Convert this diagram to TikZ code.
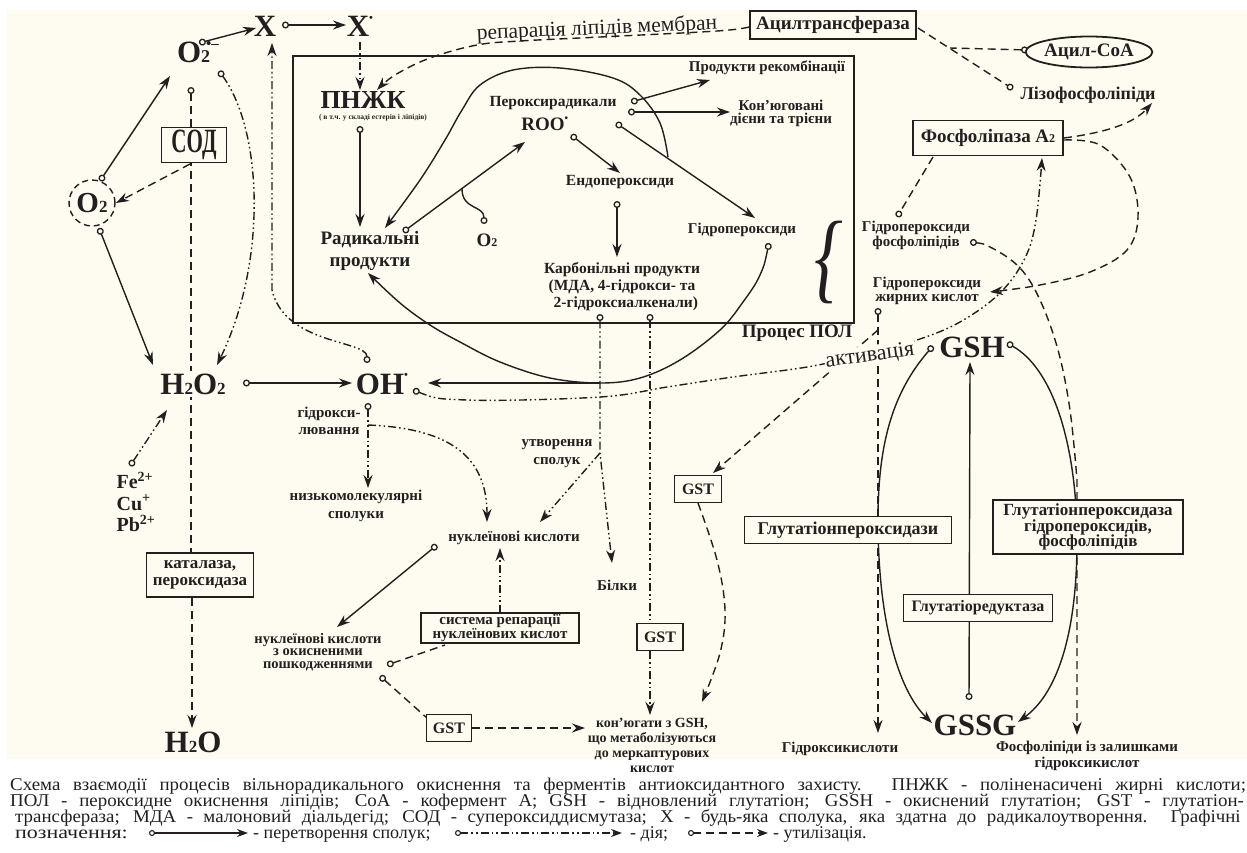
\documentclass[tikz,border=0pt]{standalone}
\usepackage{fontspec}
\usepackage{graphicx}
\setmainfont{Liberation Serif}
\usetikzlibrary{arrows.meta,shapes.geometric,backgrounds,calc}
\newcommand\myfs[1]{\fontsize{#1}{#1}\selectfont}
\newcommand\myfsl[2]{\fontsize{#1}{#2}\selectfont}
\definecolor{cream}{RGB}{254,252,241}
\definecolor{ink}{RGB}{35,31,32}
\tikzset{
  conv/.style={draw=ink,line width=1.4pt},
  act/.style={draw=ink,line width=1.4pt,dash pattern=on 8pt off 3pt on 1.6pt off 3pt on 1.6pt off 3pt},
  util/.style={draw=ink,line width=1.4pt,dash pattern=on 8pt off 5pt},
  oarr/.style={{Circle[open,length=7pt,width=7pt,line width=1.3pt]}-{Stealth[length=13pt,width=9pt]}},
  arr/.style={-{Stealth[length=13pt,width=9pt]}},
  ostart/.style={{Circle[open,length=7pt,width=7pt,line width=1.3pt]}-},
  oend/.style={-{Circle[open,length=7pt,width=7pt,line width=1.3pt]}},
  sarr/.style={{Circle[open,length=6pt,width=6pt,line width=1.1pt]}-{Stealth[length=11pt,width=8pt]}},
  lbl/.style={text=ink,inner sep=1pt,align=center},
  bx/.style={draw=ink,line width=1.8pt,fill=cream,align=center,inner sep=1pt,text=ink},
  captxt/.style={text=ink,inner sep=0pt,anchor=base west,font=\myfs{18}},
}
\begin{document}
\begin{tikzpicture}[x=1pt,y=-1pt]
\begin{pgfonlayer}{background}
\fill[white] (0,0) rectangle (1247,852);
\fill[cream] (7,10) rectangle (1247,759);
\end{pgfonlayer}
\useasboundingbox (0,0) rectangle (1247,852);

% ---------- process box ----------
\node[draw=ink,line width=2pt,minimum width=561pt,minimum height=267pt,inner sep=0pt] (polbox) at (573.5,189.5) {};
\node[lbl,font=\bfseries\myfs{19}] (pol) at (797,333) {Процес ПОЛ};

% ---------- left column ----------
\node[lbl,font=\bfseries\myfs{31}] (X) at (265,26) {X};
\node[lbl,font=\bfseries\myfs{31}] (Xr) at (358,26) {X\rlap{\raisebox{15pt}{\myfs{11}•}}};
\node[lbl,font=\bfseries\myfs{31}] (O2m) at (198,52) {O{\myfs{18}2}\hspace{-4pt}\raisebox{14pt}{\myfs{15}•–}};
\node[bx,minimum width=65pt,minimum height=35pt] (SOD) at (194,145) {\scalebox{0.62}[1]{\bfseries\myfs{34}СОД}};
\node[circle,draw=ink,line width=1.4pt,dash pattern=on 6pt off 4pt,minimum size=46pt,inner sep=0pt,font=\bfseries\myfs{29},text=ink] (O2) at (92,203) {O{\myfs{17}2}};
\node[lbl,fill=cream,font=\bfseries\myfs{31},inner sep=3pt] (H2O2) at (193,384) {H{\myfs{17}2}O{\myfs{17}2}};
\node[lbl,font=\bfseries\myfs{31}] (OH) at (380,384) {OH\rlap{\raisebox{16pt}{\myfs{11}•}}};
\node[lbl,font=\bfseries\myfs{31}] (H2O) at (193,742) {H{\myfs{17}2}O};
\node[lbl,align=left,font=\bfseries\myfsl{20}{21.5}] (Fe) at (136,502) {Fe\textsuperscript{2+}\\Cu\textsuperscript{+}\\Pb\textsuperscript{2+}};
\node[bx,minimum width=107pt,minimum height=44pt,font=\bfseries\myfsl{17}{17}] (kat) at (200,575) {каталаза,\\пероксидаза};
\node[lbl,font=\bfseries\myfsl{15}{17}] (hydrox) at (329,421) {гідрокси-\\лювання};
\node[lbl,font=\bfseries\myfsl{15}{18}] (lowmol) at (356,506) {низькомолекулярні\\сполуки};

% ---------- inside process box ----------
\node[lbl,font=\bfseries\myfs{26}] (PUFA) at (363,100) {ПНЖК};
\node[lbl,font=\bfseries\myfs{7.5},inner sep=0pt] (PUFAs) at (373,118) {( в т.ч. у складі естерів і ліпідів)};
\node[lbl,font=\bfseries\myfsl{19}{22}] (rad) at (370,251) {Радикальні\\продукти};
\node[lbl,font=\bfseries\myfs{15.5}] (perox) at (553,103) {Пероксирадикали};
\node[lbl,font=\bfseries\myfs{19}] (ROO) at (543,124) {ROO\rlap{\raisebox{9pt}{\myfs{10}•}}};
\node[lbl,font=\bfseries\myfs{19}] (O2s) at (487,240) {O{\myfs{12}2}};
\node[lbl,font=\bfseries\myfs{15.5}] (endo) at (620,182) {Ендопероксиди};
\node[lbl,font=\bfseries\myfsl{15.5}{17}] (carb) at (622,287) {Карбонільні продукти\\(МДА, 4-гідрокси- та\\\ \ 2-гідроксиалкенали)};
\node[lbl,font=\bfseries\myfs{15}] (hp) at (742,230) {Гідропероксиди};
\node[lbl,font=\bfseries\myfs{15}] (recomb) at (767,68) {Продукти рекомбінації};
\node[lbl,font=\bfseries\myfsl{15}{13}] (conj) at (781,113) {Кон’юговані\\дієни та трієни};
\node[text=ink,inner sep=0pt,font=\itshape\myfs{100}] (brace) at (829,262) {\scalebox{0.72}[1]{\{}};

% ---------- right part ----------
\node[bx,minimum width=166pt,minimum height=28pt,font=\bfseries\myfs{19}] (acyl) at (833,25) {Ацилтрансфераза};
\node[ellipse,draw=ink,line width=1.8pt,fill=cream,minimum width=112pt,minimum height=31pt,inner sep=0pt,font=\bfseries\myfs{19},text=ink] (acoa) at (1089,52) {Ацил-CoA};
\node[lbl,font=\bfseries\myfs{18}] (lyso) at (1088,95) {Лізофосфоліпіди};
\node[bx,minimum width=150pt,minimum height=35pt,font=\bfseries\myfs{19}] (pla) at (988,138) {Фосфоліпаза A{\myfs{12}2}};
\node[lbl,font=\bfseries\myfsl{15}{15}] (hpf) at (916,235) {Гідропероксиди\\фосфоліпідів};
\node[lbl,font=\bfseries\myfsl{15}{14}] (hpfa) at (927,291) {Гідропероксиди\\жирних кислот};
\node[lbl,font=\bfseries\myfs{31}] (GSH) at (972,347) {GSH};
\node[lbl,font=\bfseries\myfs{31}] (GSSG) at (975,725) {GSSG};
\node[bx,minimum width=207pt,minimum height=27pt,font=\bfseries\myfs{18}] (gpx) at (848,530) {Глутатіонпероксидази};
\node[bx,minimum width=190pt,minimum height=54pt,font=\bfseries\myfsl{17}{15.5}] (gpx2) at (1088,527) {Глутатіонпероксидаза\\гідропероксидів,\\фосфоліпідів};
\node[bx,minimum width=149pt,minimum height=27pt,font=\bfseries\myfs{16}] (gr) at (978,608) {Глутатіоредуктаза};
\node[lbl,font=\bfseries\myfs{15}] (hacid) at (840,749) {Гідроксикислоти};
\node[lbl,font=\bfseries\myfsl{15}{16}] (plres) at (1087,756) {Фосфоліпіди із залишками\\гідроксикислот};

% ---------- middle bottom ----------
\node[bx,minimum width=47pt,minimum height=27pt,font=\bfseries\myfs{16}] (gst1) at (698,489) {GST};
\node[bx,minimum width=46pt,minimum height=27pt,font=\bfseries\myfs{16}] (gst2) at (660,637) {GST};
\node[bx,minimum width=45pt,minimum height=27pt,font=\bfseries\myfs{16}] (gst3) at (449,728) {GST};
\node[lbl,font=\bfseries\myfsl{15}{18}] (form) at (557,454) {утворення\\сполук};
\node[lbl,font=\bfseries\myfs{15}] (nk) at (514,538) {нуклеїнові кислоти};
\node[lbl,font=\bfseries\myfsl{14.5}{12.5}] (nkox) at (318,652) {нуклеїнові кислоти\\з окисненими\\пошкодженнями};
\node[bx,minimum width=158pt,minimum height=29pt,font=\bfseries\myfsl{15}{13}] (rep) at (500,628) {система репарації\\нуклеїнових кислот};
\node[lbl,font=\bfseries\myfs{15}] (prot) at (617,585) {Білки};
\node[lbl,font=\bfseries\myfsl{14}{15}] (conjg) at (652,745) {кон’югати з GSH,\\що метаболізуються\\до меркаптурових\\кислот};

\node[text=ink,inner sep=0pt,rotate=2.5,font=\myfs{21.5}] (replip) at (597,29) {репарація ліпідів мембран};

% ---------- connectors ----------
\begin{pgfonlayer}{background}
% conversions
\draw[conv,oarr] (100,181) -- (170,76);
\draw[conv,oarr] (199,43) -- (256,28);
\draw[conv,oarr] (282,25) -- (346,25);
\draw[conv,oarr] (99,228) -- (153,365);
\draw[conv,oarr] (243,383) -- (352,383);
\draw[conv,oarr] (360,126) -- (360,227);
\draw[conv,oarr] (403,232) -- (525,142);
\draw[conv,oarr] (631,102) -- (710,80);
\draw[conv,oarr] (628,112) -- (730,112);
\draw[conv,oarr] (616,123) -- (755,218);
\draw[conv,oarr] (571,135) -- (620,173);
\draw[conv,oarr] (617,201) -- (617,257);
\draw[conv,arr] plot[smooth,tension=0.6] coordinates {(668,157) (660,123) (640,95) (613,78) (560,68) (513,70) (480,85) (462,110) (445,140) (420,180) (385,228)};
\draw[conv,ostart] (484,224) .. controls (484,205) and (462,210) .. (462,189);
\draw[conv,oarr] plot[smooth,tension=0.6] coordinates {(769,243) (760,275) (743,302) (720,330) (680,360) (640,378) (600,383) (550,378) (500,362) (460,342) (430,325) (400,303) (368,273)};
\draw[conv,arr] (600,383) -- (428,383);
\draw[conv,oarr] (437,545) -- (337,627);
\draw[conv,oarr] (969,700) -- (970,362);
\draw[conv,oarr] (933,346) .. controls (890,395) and (878,450) .. (878,520) .. controls (878,620) and (898,690) .. (932,723);
\draw[conv,oarr] (1007,343) .. controls (1055,370) and (1077,450) .. (1077,540) .. controls (1077,640) and (1055,695) .. (1018,722);
% actions
\draw[act,arr] (360,42) -- (360,90);
\draw[act,oarr] (219,71) .. controls (262,130) and (268,260) .. (217,365);
\draw[act,oarr] (367,363) .. controls (367,340) and (285,345) .. (272,290) -- (272,43);
\draw[act,oarr] (130,466) -- (167,410);
\draw[act,oarr] (368,403) -- (368,488);
\draw[act,arr] (368,425) .. controls (440,428) and (487,450) .. (487,522);
\draw[act,oarr] (600,314) -- (600,453) -- (612,563);
\draw[act,arr] (600,453) -- (540,522);
\draw[act,ostart] (650,314) -- (650,623);
\draw[act,arr] (650,651) -- (650,715);
\draw[act,arr] (500,613) -- (500,548);
\draw[act,oarr] plot[smooth,tension=0.6] coordinates {(413,390) (467,400) (600,397) (667,387) (733,377) (813,366) (870,352) (917,340) (960,322) (1000,293) (1025,258) (1036,220) (1042,158)};
% utilisation
\draw[util,ostart] (191,87) -- (191,553);
\draw[util,arr] (192,598) -- (192,728);
\draw[util,arr] (190,164) -- (116,203);
\draw[util,arr] plot[smooth,tension=0.6] coordinates {(749,27) (717,31) (600,37) (520,41) (477,45) (430,58) (395,75) (377,90)};
\draw[util,oend] (918,28) -- (1013,89);
\draw[util,ostart] (1028,50) -- (950,48);
\draw[util,arr] (1064,138) .. controls (1110,132) and (1135,122) .. (1152,103);
\draw[util,arr] plot[smooth,tension=0.6] coordinates {(1064,140) (1100,145) (1130,177) (1138,217) (1127,250) (1090,272) (1040,285) (990,292)};
\draw[util,oend] (933,157) -- (897,217);
\draw[util,oarr] plot[smooth,tension=0.6] coordinates {(970,242) (992,248) (1020,268) (1040,300) (1058,350) (1070,410) (1077,480)} -- (1077,735);
\draw[util,oarr] (878,308) -- (878,733);
\draw[util,arr] (878,330) -- (713,473);
\draw[util,arr] plot[smooth,tension=0.6] coordinates {(698,503) (717,560) (725,610) (720,653) (702,702)};
\draw[util,ostart] (387,665) -- (445,645);
\draw[util,ostart] (380,676) -- (427,718);
\draw[util,arr] (472,728) -- (585,728);
\end{pgfonlayer}

\node[text=ink,inner sep=1pt,rotate=8,fill=cream,font=\myfs{22}] (activ) at (870,356) {активація};

% ---------- caption ----------
\node[captxt] (cap1) at (10,790) {\scalebox{1.05}[1]{\makebox[1177pt][s]{Схема взаємодії процесів вільнорадикального окиснення та ферментів антиоксидантного захисту.  ПНЖК - поліненасичені  жирні  кислоти;}}};
\node[captxt] (cap2) at (10,806) {\scalebox{1.05}[1]{\makebox[1175pt][s]{ПОЛ - пероксидне  окиснення  ліпідів;  CoA - кофермент A;  GSH - відновлений глутатіон;  GSSH - окиснений глутатіон;  GST - глутатіон-}}};
\node[captxt] (cap3) at (15,822) {\scalebox{1.05}[1]{\makebox[1167pt][s]{трансфераза; МДА - малоновий діальдегід; СОД - супероксиддисмутаза; X - будь-яка сполука, яка здатна до радикалоутворення. Графічні}}};
\node[captxt] (cap4a) at (15,838) {\scalebox{1.22}[1]{позначення:}};
\coordinate (lg1s) at (149,833);
\coordinate (lg1e) at (248,833);
\draw[conv,line width=1.2pt,sarr] (lg1s) -- (lg1e);
\node[captxt] (cap4b) at (253,838) {- перетворення сполук;};
\coordinate (lg2s) at (455,833);
\coordinate (lg2e) at (622,833);
\draw[act,line width=1.2pt,sarr] (lg2s) -- (lg2e);
\node[captxt] (cap4c) at (630,838) {- дія;};
\coordinate (lg3s) at (688,833);
\coordinate (lg3e) at (768,833);
\draw[util,line width=1.2pt,sarr] (lg3s) -- (lg3e);
\node[captxt] (cap4d) at (773,838) {- утилізація.};
\end{tikzpicture}
\end{document}
